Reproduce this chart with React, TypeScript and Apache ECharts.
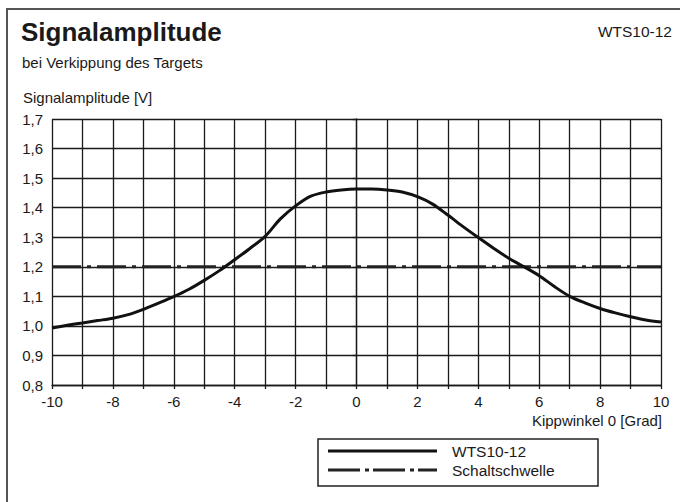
import React, { useEffect, useRef } from "react";
import * as echarts from "echarts";

const angles = [-10, -9.5, -9, -8.5, -8, -7.5, -7, -6.5, -6, -5.5, -5, -4.5, -4, -3.5, -3, -2.5, -2, -1.5, -1, -0.5, 0, 0.5, 1, 1.5, 2, 2.5, 3, 3.5, 4, 4.5, 5, 5.5, 6, 6.5, 7, 7.5, 8, 8.5, 9, 9.5, 10];
const amplitude = [0.993, 1.002, 1.010, 1.018, 1.026, 1.038, 1.056, 1.077, 1.099, 1.124, 1.154, 1.187, 1.224, 1.262, 1.303, 1.362, 1.406, 1.439, 1.453, 1.460, 1.463, 1.463, 1.460, 1.453, 1.437, 1.412, 1.375, 1.336, 1.299, 1.263, 1.229, 1.200, 1.170, 1.133, 1.100, 1.078, 1.059, 1.044, 1.031, 1.020, 1.013];
const thresholdX = [-10, 10];
const thresholdY = [1.2, 1.2];
const seriesNames = ["WTS10-12", "Schaltschwelle"];
const titleText = "Signalamplitude";
const subtitleText = "bei Verkippung des Targets";
const modelText = "WTS10-12";
const yAxisTitle = "Signalamplitude [V]";
const xAxisTitle = "Kippwinkel 0 [Grad]";

const FONT = "'Liberation Sans', Arial, Helvetica, sans-serif";
const INK = "#1a1a1a";

export default function App() {
  const ref = useRef<HTMLDivElement>(null);
  useEffect(() => {
    document.body.style.margin = "0";
    const chart = echarts.init(ref.current!, null, { renderer: "svg" });
    const curve = angles.map((a, i) => [a, amplitude[i]]);
    const thr = thresholdX.map((a, i) => [a, thresholdY[i]]);
    const dashDot = [29, 6, 4, 6];
    chart.setOption({
      animation: false,
      backgroundColor: "#fff",
      textStyle: { fontFamily: FONT },
      grid: { left: 52, top: 119, width: 609, height: 266, containLabel: false },
      xAxis: {
        type: "value",
        min: -10,
        max: 10,
        interval: 1,
        axisLine: { show: true, lineStyle: { color: INK, width: 1.3 } },
        axisTick: { show: true, length: 4, lineStyle: { color: INK, width: 1.3 } },
        splitLine: { show: true, lineStyle: { color: INK, width: 1.3 } },
        axisLabel: {
          margin: 9,
          color: INK,
          fontSize: 15,
          fontFamily: FONT,
          formatter: (v: number) => (Math.round(v) % 2 === 0 ? String(Math.round(v)) : ""),
        },
      },
      yAxis: {
        type: "value",
        min: 0.8,
        max: 1.7,
        interval: 0.1,
        axisLine: { show: true, lineStyle: { color: INK, width: 1.3 } },
        axisTick: { show: true, length: 4, lineStyle: { color: INK, width: 1.3 } },
        splitLine: { show: true, lineStyle: { color: INK, width: 1.3 } },
        axisLabel: {
          margin: 9,
          color: INK,
          fontSize: 15,
          fontFamily: FONT,
          formatter: (v: number) => v.toFixed(1).replace(".", ","),
        },
      },
      series: [
        {
          name: seriesNames[1],
          type: "line",
          data: thr,
          showSymbol: false,
          symbol: "none",
          lineStyle: { color: "#222", width: 3, type: dashDot, cap: "butt" },
          z: 3,
        },
        {
          name: seriesNames[0],
          type: "line",
          data: curve,
          showSymbol: false,
          symbol: "none",
          smooth: 0.3,
          lineStyle: { color: "#111", width: 3 },
          z: 4,
        },
      ],
      graphic: [
        { type: "line", shape: { x1: 6, y1: 9, x2: 680, y2: 9 }, style: { stroke: "#555", lineWidth: 2 } },
        { type: "line", shape: { x1: 7, y1: 8, x2: 7, y2: 502 }, style: { stroke: "#555", lineWidth: 2 } },
        { type: "text", x: 21, y: 32, style: { text: titleText, font: `bold 26px ${FONT}`, fill: INK, verticalAlign: "middle" } },
        { type: "text", x: 22, y: 62, style: { text: subtitleText, font: `15px ${FONT}`, fill: INK, verticalAlign: "middle" } },
        { type: "text", x: 672, y: 31, style: { text: modelText, font: `15.5px ${FONT}`, fill: INK, align: "right", verticalAlign: "middle" } },
        { type: "text", x: 23, y: 97, style: { text: yAxisTitle, font: `15px ${FONT}`, fill: INK, verticalAlign: "middle" } },
        { type: "text", x: 662, y: 420, style: { text: xAxisTitle, font: `15px ${FONT}`, fill: INK, align: "right", verticalAlign: "middle" } },
        { type: "rect", shape: { x: 318, y: 439, width: 280, height: 47 }, style: { fill: "#fff", stroke: "#222", lineWidth: 1.5 } },
        { type: "line", shape: { x1: 328, y1: 451, x2: 437, y2: 451 }, style: { stroke: "#111", lineWidth: 3 } },
        { type: "line", shape: { x1: 328, y1: 470, x2: 437, y2: 470 }, style: { stroke: "#222", lineWidth: 3, lineDash: [32, 5, 4, 4] } },
        { type: "text", x: 452, y: 451, style: { text: seriesNames[0], font: `15.5px ${FONT}`, fill: INK, verticalAlign: "middle" } },
        { type: "text", x: 452, y: 470, style: { text: seriesNames[1], font: `15.5px ${FONT}`, fill: INK, verticalAlign: "middle" } },
      ],
    });
    return () => chart.dispose();
  }, []);
  return <div ref={ref} style={{ position: "fixed", left: 0, top: 0, width: 680, height: 502 }} />;
}
